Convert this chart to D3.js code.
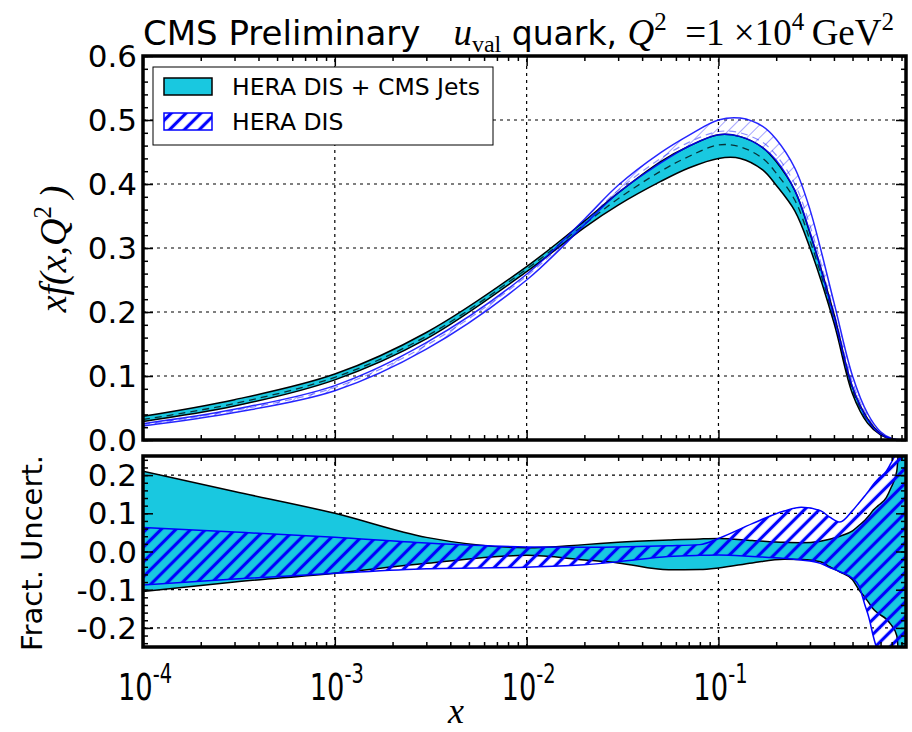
<!DOCTYPE html>
<html>
<head>
<meta charset="utf-8">
<script src="https://cdn.jsdelivr.net/npm/d3@7"></script>
<style>
  body { margin: 0; background: #fff; }
  svg { display: block; }
  text { font-family: "DejaVu Sans", sans-serif; fill: #000; }
  .math { font-family: "Liberation Serif", serif; }
</style>
</head>
<body>
<div id="chart"></div>
<script>
// upper panel: x f(x,Q^2)
const xTop = [1e-4, 3e-4, 1e-3, 3e-3, 0.01, 0.02, 0.03, 0.05, 0.07, 0.1, 0.13, 0.17, 0.2, 0.25, 0.3, 0.4, 0.5, 0.6, 0.7, 0.8, 0.95];
const cmsCentral = [0.032, 0.057, 0.098, 0.162, 0.267, 0.337, 0.377, 0.42, 0.443, 0.461, 0.458, 0.44, 0.417, 0.375, 0.312, 0.19, 0.078, 0.03, 0.009, 0.0015, 0];
const cmsHigh    = [0.037, 0.063, 0.103, 0.168, 0.271, 0.342, 0.386, 0.435, 0.459, 0.477, 0.474, 0.457, 0.435, 0.39, 0.323, 0.197, 0.082, 0.033, 0.010, 0.0017, 0];
const cmsLow     = [0.029, 0.053, 0.094, 0.158, 0.263, 0.332, 0.367, 0.404, 0.425, 0.44, 0.44, 0.422, 0.398, 0.358, 0.30, 0.183, 0.072, 0.026, 0.008, 0.0012, 0];
const heraCentral = [0.024, 0.046, 0.082, 0.148, 0.256, 0.34, 0.39, 0.44, 0.465, 0.482, 0.48, 0.465, 0.445, 0.40, 0.335, 0.20, 0.09, 0.036, 0.011, 0.002, 0];
const heraHigh    = [0.0255, 0.048, 0.085, 0.152, 0.259, 0.345, 0.398, 0.449, 0.476, 0.50, 0.503, 0.49, 0.47, 0.425, 0.36, 0.215, 0.1, 0.041, 0.013, 0.0025, 0];
const heraLow     = [0.022, 0.043, 0.077, 0.142, 0.250, 0.336, 0.386, 0.433, 0.459, 0.477, 0.474, 0.457, 0.437, 0.39, 0.325, 0.192, 0.083, 0.031, 0.009, 0.0015, 0];

// lower panel: fractional uncertainties
const xFrac = [1e-4, 3e-4, 1e-3, 3e-3, 0.01, 0.02, 0.03, 0.055, 0.08, 0.1, 0.15, 0.22, 0.27, 0.34, 0.38, 0.43, 0.5, 0.54, 0.58, 0.61, 0.64, 0.68, 0.75, 0.79, 0.85, 0.95];
const cmsFracUp   = [0.21, 0.157, 0.10, 0.037, 0.01, 0.018, 0.024, 0.03, 0.033, 0.034, 0.029, 0.024, 0.023, 0.027, 0.032, 0.04, 0.054, 0.068, 0.082, 0.094, 0.108, 0.12, 0.141, 0.165, 0.21, 0.9];
const cmsFracDown = [-0.105, -0.08, -0.057, -0.031, -0.01, -0.022, -0.03, -0.048, -0.047, -0.043, -0.03, -0.02, -0.021, -0.027, -0.04, -0.054, -0.074, -0.10, -0.12, -0.135, -0.15, -0.162, -0.177, -0.19, -0.22, -0.9];
const heraFracUp   = [0.063, 0.051, 0.037, 0.022, 0.012, 0.011, 0.012, 0.015, 0.018, 0.034, 0.073, 0.106, 0.116, 0.107, 0.09, 0.077, 0.107, 0.127, 0.146, 0.16, 0.175, 0.19, 0.21, 0.23, 0.27, 0.9];
const heraFracDown = [-0.088, -0.072, -0.057, -0.045, -0.041, -0.035, -0.027, -0.013, -0.01, -0.009, -0.013, -0.018, -0.022, -0.031, -0.042, -0.053, -0.07, -0.09, -0.14, -0.175, -0.22, -0.27, -0.4, -0.5, -0.6, -0.9];

const xDecades = [1e-4, 1e-3, 1e-2, 1e-1];
const xDecadeExp = ["-4", "-3", "-2", "-1"];
const yTicksTop = [0, 0.1, 0.2, 0.3, 0.4, 0.5, 0.6];
const yTicksBottom = [-0.2, -0.1, 0, 0.1, 0.2];
const legendNames = ["HERA DIS + CMS Jets", "HERA DIS"];

const cyan = "#19c8e0";
const blue = "#0000ff";

const width = 912, height = 732;
const svg = d3.select('#chart').append('svg')
    .attr('width', width)
    .attr('height', height);

const x = d3.scaleLog().domain([1e-4, 0.95]).range([143, 906]);
const yTop = d3.scaleLinear().domain([0, 0.6]).range([440, 56]);
const yBot = d3.scaleLinear().domain([-0.25, 0.25]).range([647, 456]);

const smooth = d3.curveCatmullRom.alpha(0.5);
const kinked = d3.curveMonotoneX;

const xMinor = [];
xDecades.forEach(d => {
    for (let k = 2; k <= 9; k++) if (k * d <= 0.95) xMinor.push(k * d);
});

const defs = svg.append('defs');
function hatch(id, color, w, gap, opacity) {
    const p = defs.append('pattern')
        .attr('id', id)
        .attr('patternUnits', 'userSpaceOnUse')
        .attr('width', gap).attr('height', gap)
        .attr('patternTransform', 'rotate(45)');
    p.append('line')
        .attr('x1', gap / 2).attr('y1', 0)
        .attr('x2', gap / 2).attr('y2', gap)
        .attr('stroke', color)
        .attr('stroke-width', w)
        .attr('stroke-opacity', opacity);
}
hatch('hatchBold', blue, 3.2, 10.5, 1);
hatch('hatchLight', blue, 1, 9, 0.35);

[['clipTop', yTop], ['clipBot', yBot]].forEach(([id, y]) => {
    defs.append('clipPath').attr('id', id)
        .append('rect')
        .attr('x', x.range()[0]).attr('y', y.range()[1])
        .attr('width', x.range()[1] - x.range()[0])
        .attr('height', y.range()[0] - y.range()[1]);
});

function grid(g, y, yVals) {
    const [x0, x1] = x.range();
    g.selectAll('.vgrid').data(xDecades.slice(1)).join('line')
        .attr('x1', d => x(d)).attr('x2', d => x(d))
        .attr('y1', y.range()[0]).attr('y2', y.range()[1])
        .attr('stroke', '#000').attr('stroke-width', 1.2).attr('stroke-dasharray', '3,4');
    g.selectAll('.hgrid').data(yVals).join('line')
        .attr('x1', x0).attr('x2', x1)
        .attr('y1', d => y(d)).attr('y2', d => y(d))
        .attr('stroke', '#000').attr('stroke-width', 1.2).attr('stroke-dasharray', '3,4');
}

function frame(g, y, yMajor, yMinor) {
    const [bottom, top] = y.range();
    const [x0, x1] = x.range();
    const clean = a => a.call(s => s.select('.domain').remove()).selectAll('line').attr('stroke-width', 1.5);
    g.append('g').attr('transform', `translate(0,${bottom})`)
        .call(d3.axisBottom(x).tickValues(xDecades).tickSize(-10).tickFormat('')).call(clean);
    g.append('g').attr('transform', `translate(0,${bottom})`)
        .call(d3.axisBottom(x).tickValues(xMinor).tickSize(-5).tickFormat('')).call(clean);
    g.append('g').attr('transform', `translate(0,${top})`)
        .call(d3.axisTop(x).tickValues(xDecades).tickSize(-10).tickFormat('')).call(clean);
    g.append('g').attr('transform', `translate(0,${top})`)
        .call(d3.axisTop(x).tickValues(xMinor).tickSize(-5).tickFormat('')).call(clean);
    g.append('g').attr('transform', `translate(${x0},0)`)
        .call(d3.axisLeft(y).tickValues(yMajor).tickSize(-10).tickFormat('')).call(clean);
    g.append('g').attr('transform', `translate(${x0},0)`)
        .call(d3.axisLeft(y).tickValues(yMinor).tickSize(-5).tickFormat('')).call(clean);
    g.append('g').attr('transform', `translate(${x1},0)`)
        .call(d3.axisRight(y).tickValues(yMajor).tickSize(-10).tickFormat('')).call(clean);
    g.append('g').attr('transform', `translate(${x1},0)`)
        .call(d3.axisRight(y).tickValues(yMinor).tickSize(-5).tickFormat('')).call(clean);
    g.append('rect')
        .attr('x', x0).attr('y', top)
        .attr('width', x1 - x0).attr('height', bottom - top)
        .attr('fill', 'none').attr('stroke', '#000').attr('stroke-width', 3.5);
}

function band(g, xs, lo, hi, y, fill, crv) {
    const area = d3.area()
        .x((d, i) => x(xs[i]))
        .y0((d, i) => y(lo[i]))
        .y1((d, i) => y(hi[i]))
        .curve(crv);
    g.append('path').datum(xs).attr('d', area).attr('fill', fill).attr('stroke', 'none');
}
function curve(g, xs, vals, y, crv, color, w, dash) {
    const line = d3.line()
        .x((d, i) => x(xs[i]))
        .y(d => y(d))
        .curve(crv);
    const p = g.append('path').datum(vals).attr('d', line)
        .attr('fill', 'none').attr('stroke', color).attr('stroke-width', w);
    if (dash) p.attr('stroke-dasharray', dash);
    return p;
}

// ---- upper panel
const upper = svg.append('g');
grid(upper, yTop, [0.1, 0.2, 0.3, 0.4, 0.5]);
const upperPlot = upper.append('g').attr('clip-path', 'url(#clipTop)');
band(upperPlot, xTop, cmsLow, cmsHigh, yTop, cyan, smooth);
curve(upperPlot, xTop, cmsLow, yTop, smooth, '#000', 1.5);
curve(upperPlot, xTop, cmsHigh, yTop, smooth, '#000', 1.5);
curve(upperPlot, xTop, cmsCentral, yTop, smooth, '#000', 1.3, '7,5').attr('stroke-opacity', 0.75);
band(upperPlot, xTop, heraLow, heraHigh, yTop, 'url(#hatchLight)', smooth);
curve(upperPlot, xTop, heraLow, yTop, smooth, blue, 1.5).attr('stroke-opacity', 0.85);
curve(upperPlot, xTop, heraHigh, yTop, smooth, blue, 1.5).attr('stroke-opacity', 0.85);
curve(upperPlot, xTop, heraCentral, yTop, smooth, blue, 1.2, '7,5').attr('stroke-opacity', 0.45);
frame(upper, yTop, yTicksTop, d3.range(0, 0.601, 0.02));

// ---- lower panel
const lower = svg.append('g');
grid(lower, yBot, yTicksBottom);
const lowerPlot = lower.append('g').attr('clip-path', 'url(#clipBot)');
band(lowerPlot, xFrac, cmsFracDown, cmsFracUp, yBot, cyan, kinked);
curve(lowerPlot, xFrac, cmsFracDown, yBot, kinked, '#000', 1.5);
curve(lowerPlot, xFrac, cmsFracUp, yBot, kinked, '#000', 1.5);
band(lowerPlot, xFrac, heraFracDown, heraFracUp, yBot, 'url(#hatchBold)', kinked);
curve(lowerPlot, xFrac, heraFracDown, yBot, kinked, blue, 1.5);
curve(lowerPlot, xFrac, heraFracUp, yBot, kinked, blue, 1.5);
frame(lower, yBot, yTicksBottom, d3.range(-0.24, 0.241, 0.02));

// ---- tick labels
svg.append('g').selectAll('text').data(yTicksTop).join('text')
    .attr('x', 137).attr('y', d => yTop(d) + 11)
    .attr('text-anchor', 'end').attr('font-size', 31)
    .text(d => d3.format('.1f')(d));
svg.append('g').selectAll('text').data(yTicksBottom).join('text')
    .attr('x', 137).attr('y', d => yBot(d) + 11)
    .attr('text-anchor', 'end').attr('font-size', 31)
    .text(d => d3.format('.1f')(d).replace('\u2212', '-'));

// narrow mathtext-like decade labels
const xl = svg.append('g').selectAll('g').data(xDecades).join('g')
    .attr('transform', d => `translate(${x(d) + 2},700) scale(0.72,1)`)
    .append('text')
    .attr('text-anchor', 'middle').attr('font-size', 38);
xl.append('tspan').text('10');
xl.append('tspan').attr('dy', -17).attr('font-size', 27).text((d, i) => xDecadeExp[i]);

// ---- axis titles
svg.append('text').attr('class', 'math')
    .attr('x', 456).attr('y', 723).attr('text-anchor', 'middle')
    .attr('font-size', 36).attr('font-style', 'italic').text('x');

const yl = svg.append('text').attr('class', 'math')
    .attr('transform', 'translate(66,249) rotate(-90)')
    .attr('text-anchor', 'middle').attr('font-size', 38).attr('font-style', 'italic');
yl.append('tspan').text('xf(x,Q');
yl.append('tspan').attr('dy', -15).attr('font-size', 25).attr('font-style', 'normal').text('2');
yl.append('tspan').attr('dy', 15).text('\u2009)');

svg.append('text')
    .attr('transform', 'translate(42,553) rotate(-90)')
    .attr('text-anchor', 'middle').attr('font-size', 29)
    .text('Fract. Uncert.');

// ---- title
svg.append('text').attr('x', 143).attr('y', 45).attr('font-size', 34).text('CMS Preliminary');
const t = svg.append('text').attr('x', 894).attr('y', 45).attr('text-anchor', 'end').attr('font-size', 33);
t.append('tspan').attr('class', 'math').attr('font-style', 'italic').attr('font-size', 37).text('u');
t.append('tspan').attr('class', 'math').attr('font-size', 24).attr('dy', 7).text('val');
t.append('tspan').attr('dy', -7).text(' quark, ');
t.append('tspan').attr('class', 'math').attr('font-style', 'italic').attr('font-size', 37).text('Q');
t.append('tspan').attr('class', 'math').attr('font-size', 25).attr('dy', -15).text('2');
t.append('tspan').attr('class', 'math').attr('font-size', 37).attr('dy', 15).text('\u2002=1 \u00d710');
t.append('tspan').attr('class', 'math').attr('font-size', 25).attr('dy', -15).text('4');
t.append('tspan').attr('class', 'math').attr('font-size', 37).attr('dy', 15).text('\u2009GeV');
t.append('tspan').attr('class', 'math').attr('font-size', 25).attr('dy', -15).text('2');

// ---- legend
const lg = svg.append('g');
lg.append('rect').attr('x', 153).attr('y', 67).attr('width', 340).attr('height', 78)
    .attr('fill', '#fff').attr('stroke', '#000').attr('stroke-width', 1);
const entries = lg.selectAll('.entry').data(legendNames).join('g')
    .attr('transform', (d, i) => `translate(164,${78 + i * 35})`);
entries.append('rect')
    .attr('width', 48).attr('height', 17)
    .attr('fill', (d, i) => i === 0 ? cyan : 'url(#hatchBold)')
    .attr('stroke', (d, i) => i === 0 ? '#000' : blue)
    .attr('stroke-width', 1.5);
entries.append('text')
    .attr('x', 68).attr('y', 17)
    .attr('font-size', 23.5)
    .text(d => d);
</script>
</body>
</html>
